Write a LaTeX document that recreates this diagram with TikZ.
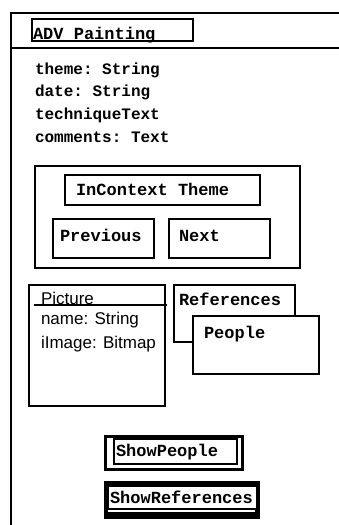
\documentclass[tikz,border=0pt]{standalone}
\usepackage{fontspec}
\setmainfont{Liberation Sans}
\setsansfont{Liberation Sans}
\setmonofont{Liberation Mono}
\usepackage{tikz}
\usetikzlibrary{positioning}

\begin{document}
\begin{tikzpicture}[x=1pt, y=-1pt, line width=2pt,
        panel/.style={rectangle, draw, anchor=north west, inner sep=0pt, fill=white},
        mono/.style={anchor=base west, inner sep=0pt, font=\fontsize{17}{19}\selectfont\ttfamily\bfseries},
        attr/.style={mono, font=\fontsize{16}{18}\selectfont\ttfamily\bfseries},
        sans/.style={anchor=base west, inner sep=0pt, font=\fontsize{17}{19}\selectfont\sffamily}]
        \useasboundingbox (0,0) rectangle (339,525);

        % outer window frame
        \coordinate (frame-tl) at (11,12.5);
        \coordinate (frame-tr) at (339,12.5);
        \coordinate (frame-bl) at (11,525);
        \coordinate (head-l)   at (11,48);
        \coordinate (head-r)   at (339,48);
        \draw (frame-bl) -- (frame-tl) -- (frame-tr);
        \draw (head-l) -- (head-r);

        % title
        \node[panel, minimum width=161pt, minimum height=22pt] (titlebox) at (31,18) {};
        \node[mono] (title) at (32,39) {ADV Painting};

        % attributes
        \node[attr] (theme)     at (34,74)  {theme: String};
        \node[attr] (date)      at (34,96.5) {date: String};
        \node[attr] (technique) at (34,119) {techniqueText};
        \node[attr] (comments)  at (34,142) {comments: Text};

        % InContext Theme group
        \node[panel, minimum width=265pt, minimum height=102pt] (context) at (34,164.5) {};
        \node[panel, minimum width=195pt, minimum height=30pt] (themebox) at (64,174) {};
        \node[mono] (themetext) at (75,195) {InContext Theme};
        \node[panel, minimum width=101pt, minimum height=39pt] (prevbox) at (52,218) {};
        \node[mono] (prev) at (59,241) {Previous};
        \node[panel, minimum width=101pt, minimum height=39pt] (nextbox) at (168,218) {};
        \node[mono] (next) at (178,241) {Next};

        % Picture
        \node[panel, minimum width=136pt, minimum height=121pt] (picture) at (28,284) {};
        \node[sans] (pictitle) at (40,304) {Picture};
        \coordinate (picline-l) at (34,305);
        \coordinate (picline-r) at (167,305);
        \draw (picline-l) -- (picline-r);
        \node[sans] (picname)  at (40,324.5) {name: String};
        \node[sans] (picimage) at (40,348) {iImage: Bitmap};

        % References / People
        \node[panel, minimum width=121pt, minimum height=57pt] (refs) at (173,284) {};
        \node[mono] (refstext) at (178,305) {References};
        \node[panel, minimum width=126pt, minimum height=58pt] (people) at (192,315) {};
        \node[mono] (peopletext) at (203,338) {People};

        % buttons
        \node[panel, line width=2.5pt, minimum width=137pt, minimum height=33pt] (showpeople) at (104,435) {};
        \node[panel, line width=1.7pt, minimum width=123pt, minimum height=25pt] (showpeoplein) at (113,438) {};
        \coordinate (spl-t) at (114,438);
        \coordinate (spl-b) at (114,463);
        \draw[line width=2.7pt] (spl-t) -- (spl-b);
        \node[mono] (showpeopletext) at (115,456) {ShowPeople};

        \node[panel, fill=black, minimum width=154pt, minimum height=36pt] (showrefs) at (104,481) {};
        \node[panel, draw=none, minimum width=147pt, minimum height=21.5pt] (showrefsin) at (108.3,485.7) {};
        \coordinate (srl-l) at (108.3,511);
        \coordinate (srl-r) at (255.3,511);
        \draw[white, line width=2.3pt] (srl-l) -- (srl-r);
        \node[mono] (showrefstext) at (109,503) {ShowReferences};
\end{tikzpicture}
\end{document}
